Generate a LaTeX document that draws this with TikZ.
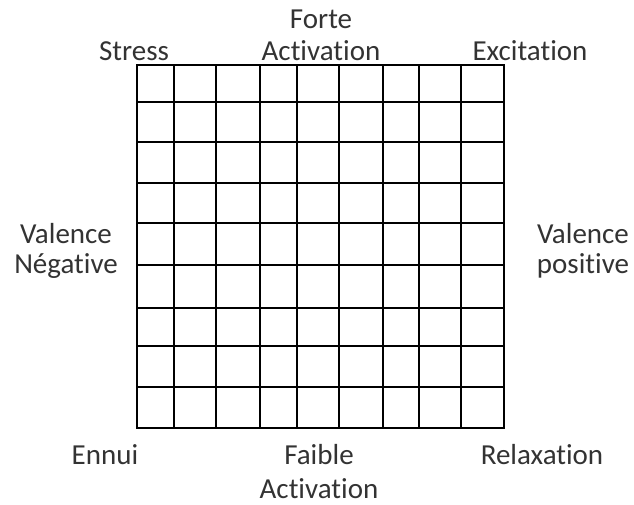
\documentclass[tikz,border=0pt]{standalone}
\usepackage{fontspec}
\setmainfont[Ligatures={NoCommon}]{Carlito}
\usepackage{tikz}
\definecolor{labelgray}{HTML}{333333}

\begin{document}
\begin{tikzpicture}[x=1pt, y=-1pt,
    quadlabel/.style={font=\fontsize{29}{32}\selectfont, text=labelgray, align=center, inner sep=0pt, anchor=base}]
    \useasboundingbox (0,0) rectangle (634,504);

    % --- grid (9x9 cells) ---
    \foreach \x in {137,174,216,260,297,339,383,419,461,504}
      \draw[line width=2.2pt, line cap=rect] (\x,65) -- (\x,428);
    \foreach \y in {65,102,142,183,223,265,308,346,387,428}
      \draw[line width=2.2pt, line cap=rect] (137,\y) -- (504,\y);

    % --- corner labels ---
    \node[quadlabel] (stress) at (134,60) {Stress};
    \node[quadlabel] (excitation) at (530,60) {Excitation};
    \node[quadlabel] (ennui) at (105,464) {Ennui};
    \node[quadlabel] (relaxation) at (542,464) {Relaxation};

    % --- axis labels (anchor on last line) ---
    \node[quadlabel] (forte) at (321,60) {Forte\\Activation};
    \node[quadlabel] (faible) at (319,498) {Faible\\[2pt]Activation};
    \node[quadlabel] (valneg) at (66,273) {Valence\\[-2pt]Négative};
    \node[quadlabel] (valpos) at (583,273) {Valence\\[-2pt]positive};
\end{tikzpicture}
\end{document}
